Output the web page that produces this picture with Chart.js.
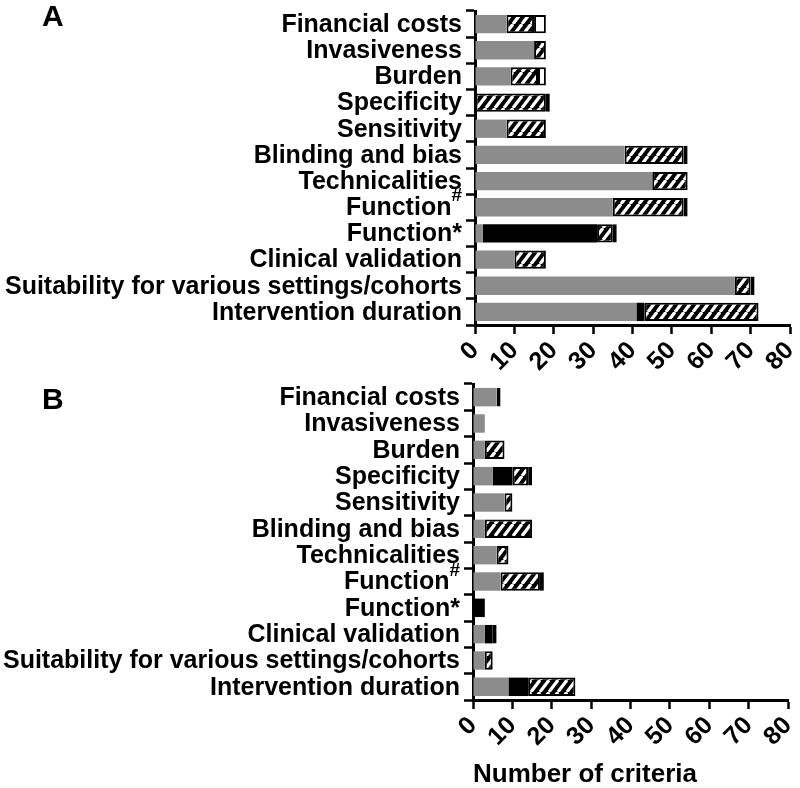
<!DOCTYPE html>
<html><head><meta charset="utf-8">
<script src="https://cdn.jsdelivr.net/npm/chart.js@4.4.1/dist/chart.umd.min.js"></script>
<style>
html,body{margin:0;padding:0;background:#fff;width:800px;height:788px;overflow:hidden}
canvas{position:absolute;left:0}
#cA{top:0}
#cB{top:380px}
</style></head><body>
<canvas id="cA" width="800" height="380"></canvas>
<canvas id="cB" width="800" height="408"></canvas>
<script>
// ---- data ----
const categories = ["Financial costs","Invasiveness","Burden","Specificity","Sensitivity","Blinding and bias","Technicalities","Function#","Function*","Clinical validation","Suitability for various settings/cohorts","Intervention duration"];
const xTickValues = [0,10,20,30,40,50,60,70,80];
const axisTitleB = "Number of criteria";

// Panel A
const aGray    = [8,15,9,0,8,38,45,35,2,10,66,41];
const aBlack   = [0,0,0,0,0,0,0,0,29,0,0,2];
const aHatched = [7,3,7,18,10,15,9,18,4,8,4,29];
const aWhite   = [3,0,2,1,0,1,0,1,1,0,1,0];

// Panel B
const bGray    = [6,3,3,5,8,3,6,7,0,3,3,9];
const bBlack   = [0,0,0,5,0,0,0,0,3,2,0,5];
const bHatched = [1,0,5,4,2,12,3,10,0,1,2,12];
const bWhite   = [0,0,0,1,0,0,0,1,0,0,0,0];

// ---- styling ----
const FONT = '"Liberation Sans", Arial, Helvetica, sans-serif';
const GRAY = '#8c8c8c';

function makeHatch(){
  const w = 9, h = 12;
  const c = document.createElement('canvas');
  c.width = w; c.height = h;
  const g = c.getContext('2d');
  g.fillStyle = '#000'; g.fillRect(0,0,w,h);
  g.strokeStyle = '#fff'; g.lineWidth = 3.2;
  for (const x0 of [-w, 0, w]) {
    g.beginPath(); g.moveTo(x0, h); g.lineTo(x0 + w, 0); g.stroke();
  }
  return g.createPattern(c, 'repeat');
}
const HATCH = makeHatch();

const nz = arr => arr.map(v => v === 0 ? null : v);

const yLabelPlugin = {
  id: 'yLabels',
  afterDraw(chart, args, opts) {
    const ctx = chart.ctx, ys = chart.scales.y, left = chart.chartArea.left;
    ctx.save();
    ctx.fillStyle = '#000';
    ctx.textBaseline = 'middle';
    const main = 'bold 25px ' + FONT;
    ys.getLabels().forEach((lab, i) => {
      const y = ys.getPixelForValue(i);
      const x = left - 13;
      ctx.textAlign = 'right';
      if (lab.endsWith('#')) {
        ctx.font = 'bold 19px ' + FONT;
        const w = ctx.measureText('#').width;
        ctx.fillText('#', x, y - 11);
        ctx.font = main;
        ctx.fillText(lab.slice(0, -1), x - w, y + 1);
      } else {
        ctx.font = main;
        ctx.fillText(lab, x, y + 1);
      }
    });
    ctx.font = 'bold 30px ' + FONT;
    ctx.textAlign = 'left';
    ctx.fillText(opts.letter, 42, opts.letterY);
    ctx.restore();
  }
};

function buildChart(id, gray, black, hatched, white, cfg) {
  const datasets = [
    {data: nz(gray),    backgroundColor: GRAY,   borderWidth: 0},
    {data: nz(black),   backgroundColor: '#000', borderWidth: 0},
    {data: nz(hatched), backgroundColor: HATCH,  borderColor: '#000', borderWidth: 2, borderSkipped: false},
    {data: nz(white),   backgroundColor: '#fff', borderColor: '#000', borderWidth: 2, borderSkipped: false}
  ];
  datasets.forEach(d => { d.barPercentage = 0.7; d.categoryPercentage = 1.0; });
  return new Chart(document.getElementById(id), {
    type: 'bar',
    data: {labels: categories, datasets},
    plugins: [yLabelPlugin],
    options: {
      responsive: false,
      animation: false,
      devicePixelRatio: 1,
      indexAxis: 'y',
      layout: {padding: {top: cfg.top, right: cfg.right, left: 0, bottom: 0}},
      plugins: {legend: {display: false}, tooltip: {enabled: false}, yLabels: {letter: cfg.letter, letterY: cfg.letterY}},
      scales: {
        x: {
          type: 'linear', min: 0, max: 80, stacked: true,
          afterBuildTicks: s => { s.ticks = xTickValues.map(v => ({value: v})); },
          afterFit: s => { s.height = cfg.xh; s.paddingLeft = 0; s.paddingRight = 0; },
          ticks: {color: '#000', font: {family: FONT, size: 25, weight: 'bold'}, minRotation: 45, maxRotation: 45, autoSkip: false, padding: 2},
          grid: {display: true, drawOnChartArea: false, drawTicks: true, tickLength: 9, tickWidth: 2.5, tickColor: '#000', color: '#000'},
          border: {display: true, color: '#000', width: 3},
          title: cfg.title ? {display: true, text: cfg.title, align: 'start', color: '#000', font: {family: FONT, size: 26, weight: 'bold', lineHeight: 1}, padding: {top: 0, bottom: 0}} : {display: false}
        },
        y: {
          type: 'category', stacked: true, offset: true,
          afterFit: s => { s.width = cfg.yw; },
          ticks: {display: false},
          grid: {display: true, drawOnChartArea: false, drawTicks: true, tickLength: 9, tickWidth: 2.5, tickColor: '#000', color: '#000'},
          border: {display: true, color: '#000', width: 3}
        }
      }
    }
  });
}

buildChart('cA', aGray, aBlack, aHatched, aWhite, {top: 11, right: 10, xh: 55, yw: 475, letter: 'A', letterY: 18});
buildChart('cB', bGray, bBlack, bHatched, bWhite, {top: 4, right: 12, xh: 88, yw: 473, letter: 'B', letterY: 21, title: axisTitleB});
</script>
</body></html>
